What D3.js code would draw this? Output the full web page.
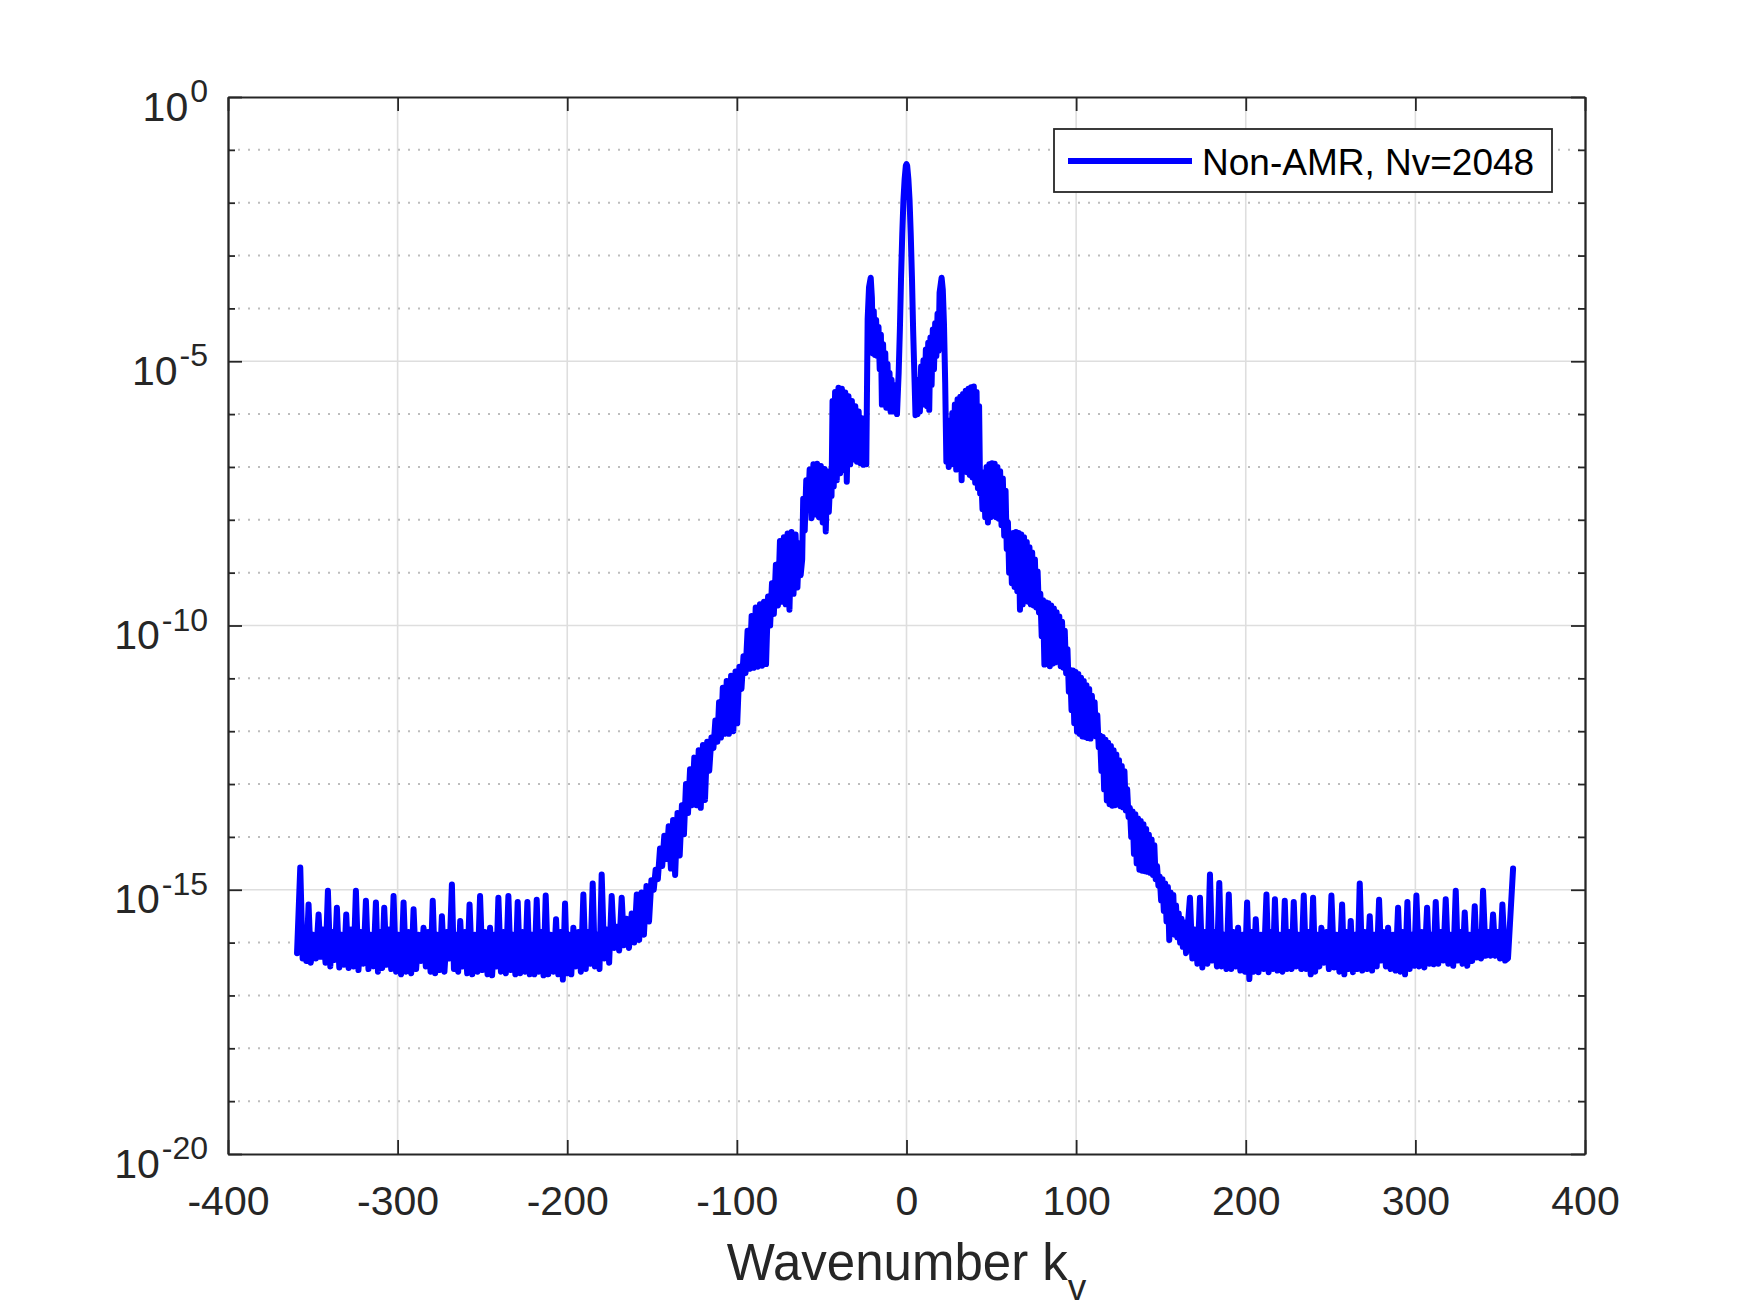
<!DOCTYPE html>
<html>
<head>
<meta charset="utf-8">
<script src="https://cdn.jsdelivr.net/npm/d3@7"></script>
<style>
  body { margin: 0; background: #fff; }
  text { font-family: "Liberation Sans", Arial, Helvetica, sans-serif; }
</style>
</head>
<body>
<div id="chart"></div>
<script>
// tick values and labels
const xTicks = [-400, -300, -200, -100, 0, 100, 200, 300, 400];
const yMajorExps = [0, -5, -10, -15, -20];
const yMinorExps = [-1, -2, -3, -4, -6, -7, -8, -9, -11, -12, -13, -14, -16, -17, -18, -19];
const xLabelText = "Wavenumber k";
const xLabelSub = "v";
const legendLabel = "Non-AMR, Nv=2048";

// spectrum: [wavenumber k_v, log10 amplitude]
const spectrum = [
  [-359.3,-16.20],[-357.4,-14.58],[-356.0,-16.30],[-355.0,-15.80],[-353.8,-16.35],
  [-352.5,-15.28],[-351.2,-16.38],[-349.8,-15.85],[-348.2,-16.30],
  [-346.6,-15.47],[-345.3,-16.27],[-344.0,-15.75],[-342.5,-16.38],
  [-341.1,-15.02],[-339.7,-16.45],[-338.5,-15.80],[-337.1,-16.33],
  [-335.8,-15.34],[-334.4,-16.47],[-333.0,-15.85],[-331.6,-16.42],
  [-330.3,-15.47],[-328.9,-16.48],[-327.4,-15.75],[-326.0,-16.45],
  [-324.6,-15.02],[-323.1,-16.52],[-321.6,-15.80],[-320.2,-16.40],
  [-318.7,-15.21],[-317.2,-16.50],[-315.8,-15.85],[-314.3,-16.45],
  [-312.8,-15.24],[-311.6,-16.55],[-310.4,-15.80],[-309.1,-16.48],
  [-307.9,-15.34],[-306.5,-16.42],[-305.1,-15.75],[-303.8,-16.50],
  [-302.4,-15.12],[-300.9,-16.55],[-299.5,-15.85],[-298.0,-16.60],
  [-296.5,-15.24],[-295.0,-16.55],[-293.5,-15.80],[-292.0,-16.58],
  [-290.6,-15.37],[-289.1,-16.50],[-287.6,-15.85],[-286.2,-16.35],
  [-284.7,-15.72],[-283.4,-16.45],[-282.0,-15.80],[-280.6,-16.55],
  [-279.3,-15.21],[-277.9,-16.58],[-276.6,-15.85],[-275.2,-16.52],
  [-273.9,-15.50],[-272.4,-16.55],[-271.0,-15.80],[-269.5,-16.30],
  [-268.0,-14.90],[-266.8,-16.50],[-265.6,-15.85],[-264.3,-16.55],
  [-263.1,-15.59],[-261.7,-16.45],[-260.3,-15.80],[-259.0,-16.58],
  [-257.6,-15.28],[-256.0,-16.60],[-254.5,-15.85],[-252.9,-16.55],
  [-251.4,-15.12],[-249.9,-16.52],[-248.5,-15.80],[-247.0,-16.60],
  [-245.5,-15.72],[-244.3,-16.62],[-243.0,-15.85],[-241.8,-16.45],
  [-240.6,-15.15],[-239.1,-16.55],[-237.6,-15.80],[-236.2,-16.58],
  [-234.7,-15.12],[-233.3,-16.52],[-232.0,-15.85],[-230.6,-16.60],
  [-229.2,-15.23],[-227.8,-16.58],[-226.3,-15.80],[-224.9,-16.55],
  [-223.5,-15.23],[-222.1,-16.60],[-220.8,-15.85],[-219.4,-16.60],
  [-218.0,-15.19],[-216.7,-16.55],[-215.4,-15.80],[-214.0,-16.62],
  [-212.7,-15.11],[-211.2,-16.60],[-209.7,-15.85],[-208.1,-16.55],
  [-206.6,-15.56],[-205.3,-16.60],[-204.0,-15.80],[-202.6,-16.70],
  [-201.3,-15.26],[-200.1,-16.58],[-198.9,-15.85],[-197.6,-16.60],
  [-196.4,-15.72],[-194.9,-16.45],[-193.4,-15.80],[-192.0,-16.55],
  [-190.5,-15.09],[-189.1,-16.50],[-187.8,-15.80],[-186.4,-16.40],
  [-185.0,-14.88],[-183.7,-16.45],[-182.4,-15.85],[-181.0,-16.50],
  [-179.7,-14.71],[-178.2,-16.30],[-176.7,-15.75],[-175.3,-16.38],
  [-173.8,-15.12],[-172.3,-16.10],[-170.8,-15.70],[-169.4,-16.15],
  [-167.9,-15.15],[-166.5,-16.05],
  // left slope
  [-165.0,-15.55],[-163.6,-16.10],[-162.0,-15.45],[-160.5,-16.00],[-159.0,-15.09],
  [-157.6,-15.95],[-156.2,-15.05],[-154.8,-15.85],[-153.3,-14.93],[-151.8,-15.60],
  [-150.4,-14.82],[-149.0,-15.00],[-147.9,-14.62],[-146.6,-14.80],[-145.3,-14.22],
  [-144.0,-14.55],[-142.8,-13.98],[-141.5,-14.42],[-140.2,-13.80],[-138.9,-14.60],
  [-137.6,-13.68],[-136.4,-14.72],[-135.0,-13.55],[-133.7,-14.35],[-132.4,-13.40],
  [-131.2,-13.95],[-130.0,-13.00],[-128.8,-13.55],[-127.6,-12.72],[-126.4,-13.40],
  [-125.1,-12.50],[-123.8,-13.40],[-122.5,-12.36],[-121.3,-13.45],[-120.0,-12.26],
  [-118.8,-13.30],[-117.5,-12.20],[-116.3,-12.75],[-115.0,-12.12],[-113.8,-12.32],
  [-112.7,-11.80],[-111.5,-12.20],[-110.5,-11.45],[-109.4,-12.12],[-108.3,-11.18],
  [-107.2,-12.05],[-106.0,-11.05],[-104.7,-12.05],[-103.4,-10.95],[-102.1,-12.00],
  [-100.8,-10.87],[-99.8,-11.85],[-98.5,-10.78],[-97.3,-11.20],[-96.1,-10.58],
  [-94.9,-10.90],[-93.7,-10.10],[-92.5,-10.82],[-91.3,-9.82],[-90.1,-10.80],
  [-88.9,-9.66],[-87.7,-10.78],[-86.4,-9.60],[-85.2,-10.76],[-84.0,-9.55],
  [-82.8,-10.73],[-81.6,-9.45],[-80.4,-10.00],[-79.3,-9.20],[-78.2,-9.78],
  [-77.0,-8.85],[-75.8,-9.62],[-74.6,-8.40],[-73.4,-9.55],[-72.3,-8.33],
  [-71.2,-9.60],[-70.1,-8.26],[-69.0,-9.70],[-67.8,-8.23],[-66.6,-9.40],
  [-65.4,-8.28],[-64.3,-9.28],[-63.3,-8.45],[-62.4,-9.05],[-61.5,-8.75],
  [-60.9,-7.60],[-60.0,-8.20],[-59.1,-7.25],[-58.1,-7.80],[-57.1,-7.05],
  [-56.0,-7.97],[-54.9,-6.95],[-53.8,-7.90],[-52.7,-6.94],[-51.6,-7.95],
  [-50.5,-6.98],[-49.4,-8.05],[-48.3,-7.04],[-47.6,-8.22],[-46.7,-7.08],
  [-45.8,-7.85],[-44.8,-7.14],[-44.2,-7.55],[-43.6,-5.75],[-42.9,-7.37],
  [-42.1,-5.58],[-41.1,-7.25],[-40.1,-5.50],[-39.1,-7.12],[-38.1,-5.52],
  [-37.1,-7.06],[-36.1,-5.59],[-35.2,-7.28],[-34.2,-5.66],[-33.2,-6.95],
  [-32.2,-5.75],[-31.2,-6.86],[-30.2,-5.85],[-29.2,-6.90],[-28.2,-5.95],
  [-27.2,-6.93],[-26.3,-6.08],[-25.4,-6.96],[-24.5,-6.20],[-23.7,-6.95],
  // left side peak
  [-22.9,-4.20],[-22.1,-3.60],[-21.1,-3.42],[-20.4,-3.80],[-19.8,-4.85],
  [-19.3,-4.05],[-18.6,-4.88],[-17.9,-4.22],[-17.2,-4.90],[-16.5,-4.35],
  [-15.8,-5.15],[-15.1,-4.50],[-14.5,-5.82],[-13.8,-4.68],[-13.1,-5.70],
  [-12.5,-4.85],[-11.9,-5.88],[-11.2,-5.05],[-10.6,-5.75],[-10.0,-5.22],
  [-9.4,-5.95],[-8.8,-5.35],[-8.1,-5.95],[-7.5,-5.45],[-6.8,-5.90],
  [-6.2,-5.55],[-5.6,-6.00],
  // central peak
  [-4.6,-5.20],[-3.9,-4.40],[-3.2,-3.40],[-2.5,-2.60],[-1.8,-1.95],
  [-1.1,-1.55],[-0.4,-1.30],[0.0,-1.27],[0.4,-1.30],[1.1,-1.55],
  [1.8,-1.95],[2.5,-2.60],[3.2,-3.40],[3.9,-4.40],[4.6,-5.20],[5.3,-6.02],
  // right side peak
  [5.9,-5.70],[6.5,-6.00],[7.2,-5.35],[7.9,-5.95],[8.6,-5.10],
  [9.3,-5.82],[10.0,-4.98],[10.7,-5.75],[11.4,-4.78],[12.1,-5.85],
  [12.8,-4.65],[13.4,-5.92],[14.1,-4.55],[14.8,-5.45],[15.5,-4.40],
  [16.2,-5.15],[16.9,-4.28],[17.6,-4.90],[18.3,-4.10],[18.9,-4.80],
  [19.5,-3.70],[20.7,-3.42],[21.4,-3.65],[22.1,-4.30],[22.8,-5.40],
  // right slope
  [23.5,-6.90],[24.2,-6.30],[24.9,-7.00],[25.6,-6.12],[26.3,-6.95],
  [27.0,-5.98],[27.7,-6.90],[28.5,-5.82],[29.3,-7.05],[30.1,-5.72],
  [30.9,-6.92],[31.7,-5.67],[32.5,-7.25],[33.3,-5.62],[34.1,-7.00],
  [34.9,-5.56],[35.7,-7.10],[36.5,-5.52],[37.3,-7.15],[38.1,-5.49],
  [38.9,-7.20],[39.7,-5.48],[40.5,-7.30],[41.3,-5.58],[42.1,-7.40],
  [42.8,-5.85],[43.4,-7.50],[44.1,-7.20],[44.8,-7.80],[45.6,-7.10],
  [46.4,-7.95],[47.2,-7.00],[48.0,-8.05],[48.8,-6.95],[49.6,-7.95],
  [50.4,-6.93],[51.2,-7.92],[52.0,-6.94],[52.8,-7.95],[53.6,-7.00],
  [54.4,-7.98],[55.2,-7.08],[56.0,-8.10],[56.8,-7.22],[57.6,-8.30],
  [58.4,-7.45],[59.1,-8.55],[59.8,-8.05],[60.5,-9.00],[61.3,-8.28],
  [62.1,-9.20],[62.9,-8.25],[63.7,-9.27],[64.5,-8.23],[65.3,-9.35],
  [66.1,-8.25],[66.9,-9.70],[67.7,-8.28],[68.5,-9.60],[69.3,-8.33],
  [70.1,-9.53],[70.9,-8.42],[71.7,-9.55],[72.5,-8.52],[73.3,-9.60],
  [74.1,-8.62],[74.9,-9.62],[75.7,-8.75],[76.5,-9.66],[77.3,-8.98],
  [78.1,-9.75],[78.9,-9.40],[79.7,-10.20],[80.5,-9.52],[81.3,-10.74],
  [82.1,-9.56],[82.9,-10.70],[83.7,-9.58],[84.5,-10.77],[85.3,-9.62],
  [86.1,-10.72],[86.9,-9.68],[87.7,-10.70],[88.5,-9.75],[89.3,-10.68],
  [90.1,-9.83],[90.9,-10.77],[91.7,-9.93],[92.5,-10.80],[93.3,-10.10],
  [94.1,-10.90],[94.9,-10.45],[95.7,-11.25],[96.5,-10.84],[97.3,-11.60],
  [98.1,-10.85],[98.9,-11.85],[99.7,-10.88],[100.5,-12.01],[101.3,-10.92],
  [102.1,-12.05],[102.9,-10.99],[103.7,-12.10],[104.5,-11.05],[105.3,-12.11],
  [106.1,-11.13],[106.9,-12.13],[107.7,-11.20],[108.5,-12.14],[109.3,-11.33],
  [110.1,-12.08],[110.9,-11.45],[111.7,-12.10],[112.5,-11.70],[113.3,-12.30],
  [114.1,-12.08],[114.9,-12.75],[115.7,-12.11],[116.5,-13.10],[117.3,-12.16],
  [118.1,-13.31],[118.9,-12.22],[119.7,-13.38],[120.5,-12.28],[121.3,-13.41],
  [122.1,-12.36],[122.9,-13.40],[123.7,-12.44],[124.5,-13.38],[125.3,-12.55],
  [126.1,-13.42],[126.9,-12.66],[127.7,-13.44],[128.5,-12.76],[129.3,-13.50],
  [130.1,-13.10],[130.9,-13.62],[131.7,-13.45],[132.5,-14.00],[133.3,-13.52],
  [134.1,-14.32],[134.9,-13.57],[135.7,-14.50],[136.5,-13.65],[137.3,-14.62],
  [138.1,-13.70],[138.9,-14.64],[139.7,-13.76],[140.5,-14.65],[141.3,-13.85],
  [142.1,-14.66],[142.9,-13.96],[143.7,-14.68],[144.5,-14.05],[145.3,-14.72],
  [146.1,-14.16],[146.9,-14.80],[147.7,-14.55],[148.5,-14.92],[149.3,-14.75],
  [150.1,-15.20],[150.9,-14.80],[151.7,-15.40],[152.5,-14.88],[153.3,-15.60],
  [154.1,-14.95],[154.9,-15.95],[155.7,-15.05],[156.5,-15.80],[157.3,-15.10],
  [158.1,-15.85],[158.9,-15.30],[159.7,-15.90],[160.5,-15.45],[161.3,-16.00],
  [162.1,-15.55],[162.9,-16.08],[163.8,-15.62],[164.8,-16.20],[165.8,-15.70],
  // right floor
  [167.1,-15.15],[168.5,-16.30],[169.9,-15.75],[171.5,-16.40],
  [173.0,-15.15],[174.4,-16.47],[175.9,-15.80],[177.4,-16.40],
  [178.9,-14.71],[180.3,-16.34],[181.7,-15.80],[183.0,-16.45],
  [184.4,-14.87],[185.8,-16.45],[187.2,-15.85],[188.6,-16.50],
  [190.0,-15.09],[191.4,-16.50],[192.8,-15.80],[194.1,-16.45],
  [195.5,-15.72],[196.8,-16.53],[198.2,-15.85],[199.5,-16.55],
  [200.8,-15.24],[202.1,-16.69],[203.4,-15.80],[204.6,-16.55],
  [205.9,-15.56],[207.5,-16.56],[209.0,-15.85],[210.6,-16.50],
  [212.2,-15.09],[213.5,-16.56],[214.7,-15.80],[216.0,-16.50],
  [217.2,-15.18],[218.7,-16.53],[220.1,-15.85],[221.6,-16.55],
  [223.0,-15.21],[224.3,-16.50],[225.6,-15.80],[227.0,-16.50],
  [228.3,-15.23],[229.8,-16.45],[231.2,-15.85],[232.7,-16.50],
  [234.2,-15.11],[235.6,-16.50],[236.9,-15.80],[238.3,-16.60],
  [239.7,-15.15],[240.9,-16.55],[242.2,-15.85],[243.4,-16.45],
  [244.6,-15.72],[246.1,-16.38],[247.6,-15.80],[249.0,-16.50],
  [250.5,-15.11],[252.1,-16.47],[253.7,-15.85],[255.2,-16.55],
  [256.8,-15.28],[258.1,-16.60],[259.3,-15.80],[260.6,-16.50],
  [261.9,-15.59],[263.2,-16.56],[264.5,-15.85],[265.9,-16.50],
  [267.2,-14.88],[268.7,-16.53],[270.2,-15.80],[271.6,-16.50],
  [273.1,-15.50],[274.5,-16.53],[275.8,-15.85],[277.2,-16.45],
  [278.6,-15.19],[279.9,-16.34],[281.3,-15.80],[282.6,-16.45],
  [283.9,-15.72],[285.4,-16.50],[286.9,-15.85],[288.3,-16.53],
  [289.8,-15.34],[291.2,-16.55],[292.5,-15.80],[293.9,-16.60],
  [295.3,-15.23],[296.6,-16.50],[298.0,-15.85],[299.3,-16.44],
  [300.6,-15.11],[302.2,-16.45],[303.8,-15.80],[305.3,-16.47],
  [306.9,-15.34],[308.2,-16.40],[309.4,-15.85],[310.7,-16.41],
  [312.0,-15.23],[313.5,-16.40],[315.0,-15.80],[316.4,-16.34],
  [317.9,-15.18],[319.4,-16.40],[320.8,-15.85],[322.3,-16.44],
  [323.8,-15.02],[325.1,-16.34],[326.5,-15.80],[327.8,-16.40],
  [329.1,-15.43],[330.6,-16.44],[332.0,-15.85],[333.5,-16.35],
  [335.0,-15.31],[336.2,-16.28],[337.5,-15.80],[338.7,-16.30],
  [339.9,-15.02],[341.4,-16.25],[342.9,-15.80],[344.3,-16.25],
  [345.8,-15.47],[347.2,-16.25],[348.5,-15.80],[349.9,-16.30],
  [351.3,-15.28],[352.9,-16.34],[354.6,-16.30],[357.6,-14.60]
];

// set the dimensions and margins of the graph
const margin = {top: 97, right: 165, bottom: 148, left: 228},
    width = 1750 - margin.left - margin.right,
    height = 1302 - margin.top - margin.bottom;

const axisColor = "#262626";

const svgRoot = d3.select("#chart")
    .append("svg")
    .attr("width", 1750)
    .attr("height", 1302)
    .style("background", "#fff");

const svg = svgRoot.append("g")
    .attr("transform", `translate(${margin.left}, ${margin.top})`);

const x = d3.scaleLinear().domain([-400, 400]).range([0, width]);
const y = d3.scaleLog().domain([1e-20, 1]).range([height, 0]);
const pow = e => Math.pow(10, e);

// grid: major vertical, major horizontal, minor dotted
svg.append("g")
    .selectAll("line")
    .data(xTicks.slice(1, -1))
    .join("line")
    .attr("x1", d => x(d)).attr("x2", d => x(d))
    .attr("y1", 0).attr("y2", height)
    .attr("stroke", "#dedede")
    .attr("stroke-width", 1.6);

svg.append("g")
    .selectAll("line")
    .data(yMajorExps.slice(1, -1))
    .join("line")
    .attr("x1", 0).attr("x2", width)
    .attr("y1", d => y(pow(d))).attr("y2", d => y(pow(d)))
    .attr("stroke", "#dedede")
    .attr("stroke-width", 1.6);

svg.append("g")
    .selectAll("line")
    .data(yMinorExps)
    .join("line")
    .attr("x1", 0).attr("x2", width)
    .attr("y1", d => y(pow(d))).attr("y2", d => y(pow(d)))
    .attr("stroke", "#bdbdbd")
    .attr("stroke-width", 2)
    .attr("stroke-dasharray", "2,8");

// the spectrum line
const line = d3.line()
    .x(d => x(d[0]))
    .y(d => y(pow(d[1])));

svg.append("path")
    .datum(spectrum)
    .attr("d", line)
    .attr("fill", "none")
    .attr("stroke", "#0000ff")
    .attr("stroke-width", 6)
    .attr("stroke-linejoin", "round")
    .attr("stroke-linecap", "round");

// axes (ticks pointing inward)
function styleAxis(g) {
    g.attr("color", axisColor);
    g.select(".domain").attr("stroke-width", 1.8);
    g.selectAll(".tick line").attr("stroke-width", 1.8);
    g.selectAll("text")
        .attr("fill", axisColor)
        .style("font-size", "41px")
        .style("font-family", '"Liberation Sans", Arial, Helvetica, sans-serif');
}

svg.append("g")
    .attr("transform", `translate(0, ${height})`)
    .call(d3.axisBottom(x).tickValues(xTicks).tickSize(-14).tickSizeOuter(0)
        .tickPadding(32).tickFormat(d => String(d)))
    .call(styleAxis);

svg.append("g")
    .call(d3.axisTop(x).tickValues(xTicks).tickSize(-14).tickSizeOuter(0).tickFormat(""))
    .call(styleAxis);

svg.append("g")
    .call(d3.axisLeft(y).tickValues(yMajorExps.map(pow)).tickSize(-14).tickSizeOuter(0).tickFormat(""))
    .call(styleAxis);
svg.append("g")
    .call(d3.axisLeft(y).tickValues(yMinorExps.map(pow)).tickSize(-7).tickSizeOuter(0).tickFormat(""))
    .call(styleAxis);

svg.append("g")
    .attr("transform", `translate(${width}, 0)`)
    .call(d3.axisRight(y).tickValues(yMajorExps.map(pow)).tickSize(-14).tickSizeOuter(0).tickFormat(""))
    .call(styleAxis);
svg.append("g")
    .attr("transform", `translate(${width}, 0)`)
    .call(d3.axisRight(y).tickValues(yMinorExps.map(pow)).tickSize(-7).tickSizeOuter(0).tickFormat(""))
    .call(styleAxis);

// y tick labels 10^n
const yLab = svg.append("g")
    .selectAll("text")
    .data(yMajorExps)
    .join("text")
    .attr("x", -20)
    .attr("y", d => y(pow(d)) + 23.5)
    .attr("text-anchor", "end")
    .attr("fill", axisColor)
    .style("font-size", "41px");
yLab.append("tspan").text("10");
yLab.append("tspan")
    .attr("dx", 2)
    .attr("dy", -18.5)
    .style("font-size", "32px")
    .text(d => String(d));

// x axis label with subscript
const xl = svg.append("text")
    .attr("x", width / 2)
    .attr("y", 1280 - margin.top)
    .attr("text-anchor", "middle")
    .attr("fill", axisColor)
    .style("font-size", "51px");
xl.append("tspan").text(xLabelText);
xl.append("tspan").attr("dy", 20).style("font-size", "37px").text(xLabelSub);

// legend
const legend = svgRoot.append("g");
legend.append("rect")
    .attr("x", 1054).attr("y", 129)
    .attr("width", 498).attr("height", 63)
    .attr("fill", "#fff")
    .attr("stroke", axisColor)
    .attr("stroke-width", 1.8);
legend.append("line")
    .attr("x1", 1068).attr("x2", 1192)
    .attr("y1", 161).attr("y2", 161)
    .attr("stroke", "#0000ff")
    .attr("stroke-width", 6);
legend.append("text")
    .attr("x", 1202).attr("y", 175)
    .attr("fill", "#000")
    .style("font-size", "37px")
    .text(legendLabel);
</script>
</body>
</html>
